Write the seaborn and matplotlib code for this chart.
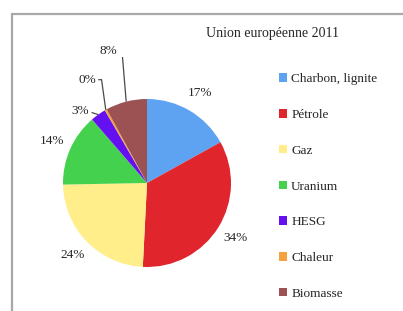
"""
Union européenne 2011 - energy mix pie chart
"""
import numpy as np
import matplotlib
matplotlib.use("Agg")
import matplotlib.pyplot as plt
import matplotlib.patches as mpatches
from matplotlib.lines import Line2D
import seaborn as sns

# ── Data ───────────────────────────────────────────────────────────────────
categories = ["Charbon, lignite", "Pétrole", "Gaz", "Uranium", "HESG", "Chaleur", "Biomasse"]
shares = [17, 34, 24, 14, 3, 0.4, 8]
pct_labels = ["17%", "34%", "24%", "14%", "3%", "0%", "8%"]
colors = ["#5EA3F2", "#E0262C", "#FFEE8A", "#44D24E", "#6410F0", "#F5A23E", "#9C5252"]

# ── Style ──────────────────────────────────────────────────────────────────
sns.set_theme(style="white")
plt.rcParams["font.family"] = ["Liberation Serif", "DejaVu Serif"]
FS = 9.5
TXT = "#262626"

fig = plt.figure(figsize=(4.03, 3.11), dpi=100)
fig.patch.set_facecolor("white")

# grey frame (only top and left edges are visible in the crop)
fig.add_artist(Line2D([12 / 403, 12 / 403], [0, 1 - 14 / 311], color="#A8A8A8", lw=1.6,
                      transform=fig.transFigure))
fig.add_artist(Line2D([12 / 403, 1], [1 - 14 / 311, 1 - 14 / 311], color="#A8A8A8", lw=1.6,
                      transform=fig.transFigure))

# pie axes: centre at (147, 183) px, radius 84 px
ax = fig.add_axes([(147 - 126) / 403, (311 - 183 - 126) / 311, 252 / 403, 252 / 311])
wedges, _ = ax.pie(shares, colors=colors, startangle=90, counterclock=False,
                   radius=1.0, wedgeprops={"linewidth": 0})
ax.set_xlim(-1.5, 1.5)
ax.set_ylim(-1.5, 1.5)
ax.set_aspect("equal")
ax.axis("off")

# percentage labels; small slices get a leader line (text right end given)
leader_text = {4: (-0.69, 0.86), 5: (-0.60, 1.23), 6: (-0.35, 1.57)}
for i, w in enumerate(wedges):
    mid = np.deg2rad((w.theta1 + w.theta2) / 2)
    ex, ey = np.cos(mid), np.sin(mid)
    if i in leader_text:
        tx, ty = leader_text[i]
        ax.text(tx, ty, pct_labels[i], fontsize=FS, color=TXT, ha="right", va="center")
        if i == 4:
            xs, ys = [tx + 0.03, ex], [ty - 0.02, ey]
        else:
            xs, ys = [tx + 0.02, ex - 0.05, ex], [ty, ty, ey]
        ax.plot(xs, ys, color="#4A4A4A", lw=0.9, solid_capstyle="butt")
    else:
        ax.text(1.24 * ex, 1.24 * ey, pct_labels[i], fontsize=FS, color=TXT,
                ha="center", va="center")

fig.text(272 / 403, 1 - 34 / 311, "Union européenne 2011", fontsize=10, color=TXT,
         ha="center", va="center")

handles = [mpatches.Patch(facecolor=c, edgecolor="none") for c in colors]
fig.legend(handles, categories, loc="upper left", bbox_to_anchor=(274 / 403, 1 - 68 / 311),
           frameon=False, fontsize=FS, labelspacing=1.8, handlelength=0.6,
           handleheight=0.6, handletextpad=0.3, labelcolor=TXT, borderaxespad=0)

plt.savefig("out.png", dpi=100)
plt.close()
